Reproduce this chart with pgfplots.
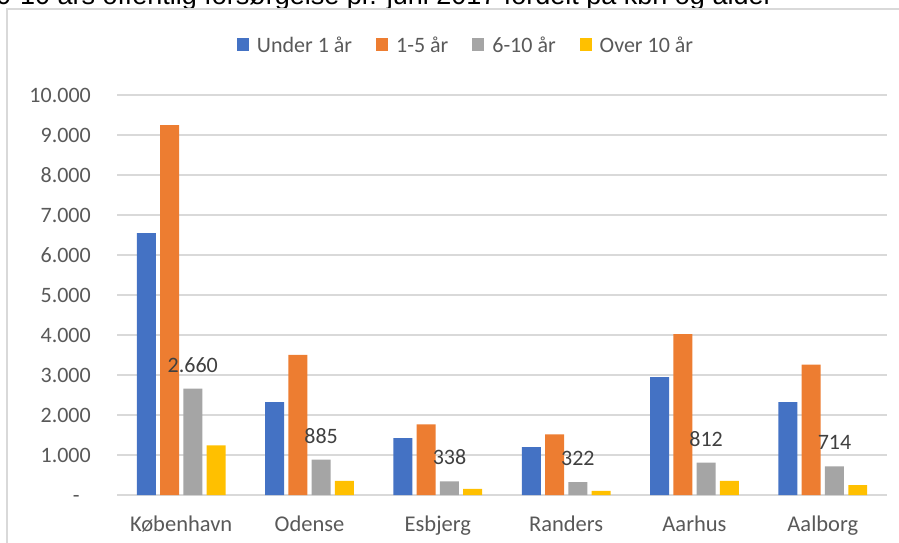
\documentclass[border=0pt]{standalone}
\usepackage{pgfplots}
\pgfplotsset{compat=1.18}
\usepackage{fontspec}
\setmainfont{Carlito}
\newfontfamily\titlefont{Liberation Sans}
\definecolor{cblue}{HTML}{4472C4}
\definecolor{corange}{HTML}{ED7D31}
\definecolor{cgray}{HTML}{A5A5A5}
\definecolor{cyellow}{HTML}{FFC000}
\definecolor{gridc}{HTML}{D9D9D9}
\definecolor{tickc}{HTML}{595959}
\definecolor{labc}{HTML}{404040}
\pgfplotsset{
  /pgfplots/ybar legend/.style={
    /pgfplots/legend image code/.code={
      \fill[##1,draw=none] (0pt,-6.5pt) rectangle (12pt,6.5pt);
      \path (20pt,0pt);
    }
  }
}
\begin{document}
\begin{tikzpicture}[x=1pt,y=1pt]
% title (cut off at top as in the reference)
\node[anchor=base west,inner sep=0pt,font=\titlefont\fontsize{27}{31}\selectfont] at (-4,537.5)
  {0-10 års offentlig forsørgelse pr. juni 2017 fordelt på kbh og alder};
% chart area border
\draw[gridc,line width=1.3pt] (7,-5) -- (7,533) -- (905,533);
\begin{axis}[
  at={(117pt,47pt)}, anchor=south west,
  scale only axis, width=770pt, height=400pt,
  ybar, bar width=0.148,
  xmin=-0.5, xmax=5.5, ymin=0, ymax=10000,
  scaled y ticks=false,
  xtick={0,1,2,3,4,5},
  xticklabels={København,Odense,Esbjerg,Randers,Aarhus,Aalborg},
  ytick={0,1000,...,10000},
  yticklabels={{-\phantom{0}},1.000,2.000,3.000,4.000,5.000,6.000,7.000,8.000,9.000,10.000},
  major tick length=0pt,
  axis line style={draw=none},
  ymajorgrids, grid style={gridc,line width=1.3pt},
  xticklabel style={anchor=base,inner sep=0pt,yshift=-36pt,text=tickc,font=\fontsize{22.5}{26}\selectfont},
  yticklabel style={anchor=east,inner sep=0pt,xshift=-26pt,text=tickc,font=\fontsize{22}{26}\selectfont},
  /pgf/number format/assume math mode=true,
  legend columns=4,
  legend style={at={(0.452,1.125)},anchor=center,draw=none,fill=none,
    inner sep=0pt, column sep=0pt,
    nodes={inner sep=0pt,text=tickc,font=\fontsize{22}{26}\selectfont},
    /tikz/every even column/.append style={column sep=24pt}},
  clip=false,
]
\addplot[fill=cblue,draw=none,bar shift=-0.272] coordinates {(0,6550) (1,2320) (2,1425) (3,1195) (4,2945) (5,2320)};
\addplot[fill=corange,draw=none,bar shift=-0.0908] coordinates {(0,9245) (1,3505) (2,1765) (3,1515) (4,4020) (5,3260)};
\addplot[fill=cgray,draw=none,bar shift=0.0908,
  nodes near coords,
  nodes near coords style={anchor=base,inner sep=0pt,yshift=16.5pt,text=labc,font=\fontsize{22}{26}\selectfont,
    /pgf/number format/.cd,fixed,1000 sep={.},assume math mode=true},
  ] coordinates {(0,2660) (1,885) (2,338) (3,322) (4,812) (5,714)};
\addplot[fill=cyellow,draw=none,bar shift=0.272] coordinates {(0,1240) (1,355) (2,155) (3,105) (4,355) (5,250)};
\legend{Under 1 år,1-5 år,6-10 år,Over 10 år}
\end{axis}
\pgfresetboundingbox
\path[use as bounding box] (0,0) rectangle (899,542);
\end{tikzpicture}
\end{document}
